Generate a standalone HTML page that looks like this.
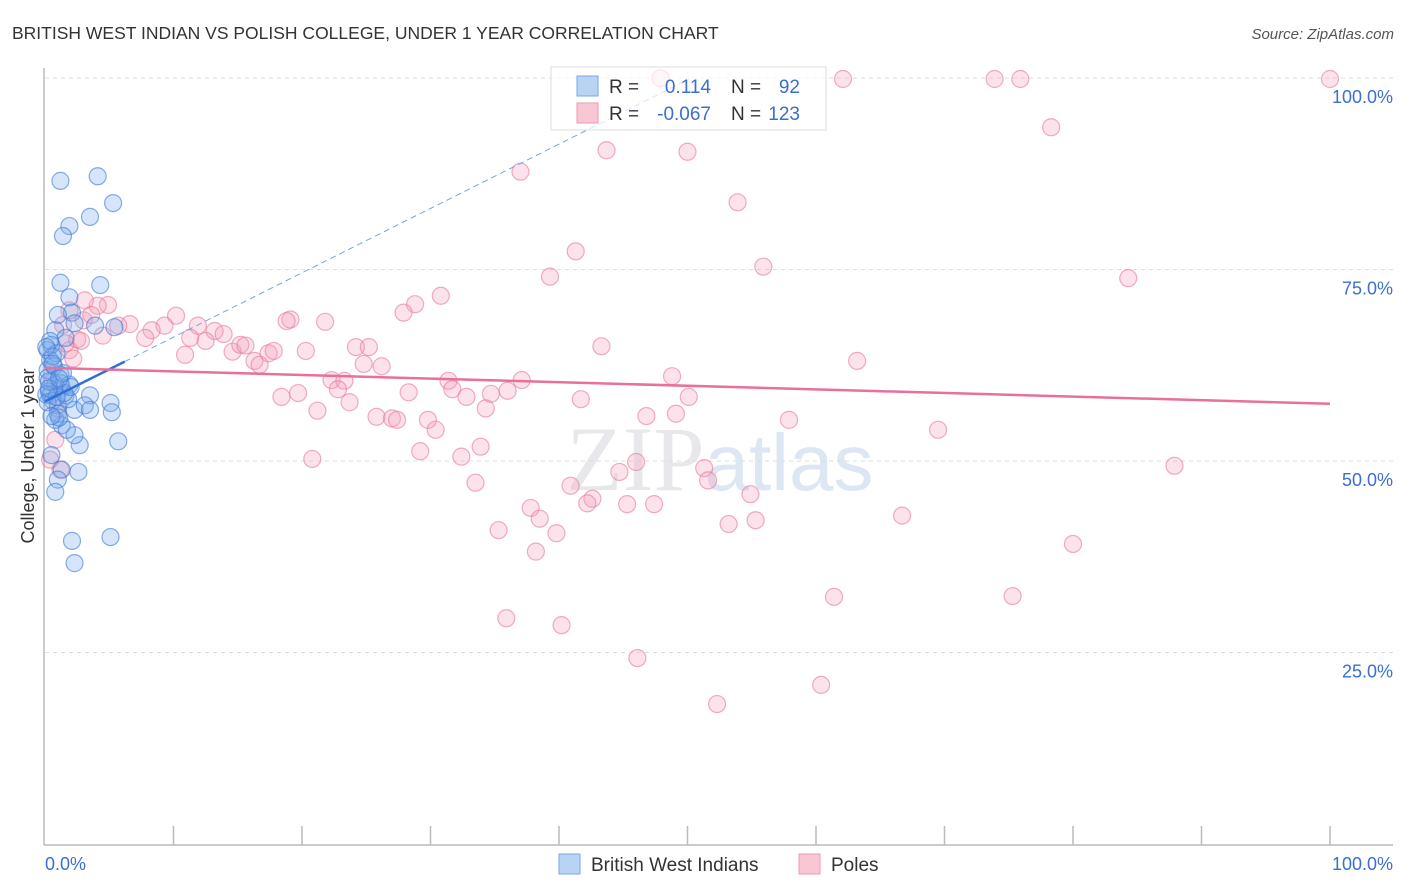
<!DOCTYPE html>
<html><head><meta charset="utf-8"><style>
body{margin:0;background:#fff;font-family:"Liberation Sans",sans-serif;}
svg{display:block}
</style></head><body>
<svg id="chart" width="1406" height="892">
<text x="12" y="39" font-size="17.5" fill="#333">BRITISH WEST INDIAN VS POLISH COLLEGE, UNDER 1 YEAR CORRELATION CHART</text>
<text x="1394" y="39" font-size="15" fill="#555" font-style="italic" text-anchor="end">Source: ZipAtlas.com</text>
<text x="720" y="490" font-size="92" fill="#e8e8ec" text-anchor="middle" font-family="Liberation Serif,serif">ZIP<tspan fill="#dde6f3" font-family="Liberation Sans,sans-serif" font-size="80">atlas</tspan></text>
<g id="grid"></g>
<g id="axes"></g>
<g id="pts"></g>
<g id="trends"></g>
<text transform="translate(34,456) rotate(-90)" font-size="18" fill="#333" text-anchor="middle">College, Under 1 year</text>
<g>
<rect x="551" y="67" width="275" height="63" fill="rgba(255,255,255,0.7)" stroke="#ddd"/>
<rect x="577" y="76" width="21" height="20" fill="#b9d3f5" stroke="#7aa7e6"/>
<rect x="577" y="103" width="21" height="20" fill="#f9c6d4" stroke="#ee9ab3"/>
<text x="609" y="93" font-size="19" fill="#333">R =</text>
<text x="711" y="93" font-size="19" fill="#3a6fd0" text-anchor="end">0.114</text>
<text x="731" y="93" font-size="19" fill="#333">N =</text>
<text x="800" y="93" font-size="19" fill="#3a6fd0" text-anchor="end">92</text>
<text x="609" y="120" font-size="19" fill="#333">R =</text>
<text x="711" y="120" font-size="19" fill="#3a6fd0" text-anchor="end">-0.067</text>
<text x="731" y="120" font-size="19" fill="#333">N =</text>
<text x="800" y="120" font-size="19" fill="#3a6fd0" text-anchor="end">123</text>
</g>
<g>
<rect x="559" y="854" width="21" height="20" fill="#b9d3f5" stroke="#7aa7e6"/>
<text x="591" y="871" font-size="19" fill="#333">British West Indians</text>
<rect x="799" y="854" width="21" height="20" fill="#f9c6d4" stroke="#ee9ab3"/>
<text x="831" y="871" font-size="19" fill="#333">Poles</text>
</g>
</svg>
<script>
const yTicks=[25,50,75,100];
const yTickLabels=["25.0%","50.0%","75.0%","100.0%"];
const blueX=[1.2,4.1,5.3,3.5,1.9,1.4,1.2,4.3,1.9,2.1,1.0,3.9,5.4,2.3,0.8,1.6,0.5,0.2,0.4,0.2,1.2,0.8,1.3,0.4,1.6,1.9,1.0,2.3,3.5,3.1,3.5,5.1,5.2,5.7,2.7,2.3,1.3,0.8,1.7,0.5,1.3,2.6,1.0,0.8,2.1,5.1,2.3,0.3,0.1,0.6,1.0,1.8,1.2,0.4,0.9,0.2,0.7,1.5,0.3,0.6,1.1,0.2,0.5,1.4,0.9,0.3,2.0,0.1,0.6,1.1];
const blueY=[86.7,87.3,83.8,82.0,80.8,79.5,73.4,73.1,71.5,69.5,69.2,67.8,67.6,68.1,67.2,66.2,65.3,64.6,63.3,62.0,61.4,60.1,59.7,58.7,58.7,60.1,57.4,56.8,58.7,57.4,56.8,57.7,56.5,52.7,52.2,53.5,54.8,55.5,54.2,50.9,49.0,48.7,47.7,46.1,39.7,40.2,36.8,59.2,58.8,58.0,56.3,58.2,60.3,65.8,64.2,61.0,62.5,59.0,60.5,63.8,55.8,57.8,56.0,61.6,58.5,59.6,59.8,65.0,62.8,60.9];
const pinkX=[47.9,62.1,73.9,75.9,100,78.3,43.7,50.0,37.0,53.9,41.3,55.9,39.3,84.3,30.8,28.8,27.9,19.1,18.8,21.8,10.2,9.3,8.3,6.6,5.7,4.9,4.1,3.1,1.9,1.4,11.9,13.2,13.9,11.3,12.5,7.8,10.9,14.6,15.2,15.6,16.3,16.7,17.4,17.8,20.3,24.2,25.2,24.8,26.2,18.4,19.7,22.3,23.3,22.8,23.7,21.2,25.8,27.0,27.4,28.3,29.8,30.4,31.4,31.7,32.8,34.7,36.0,37.1,34.3,29.2,32.4,33.9,20.8,33.5,43.3,41.7,46.8,49.1,48.8,50.1,57.9,63.2,69.5,87.9,46.0,44.7,51.3,51.6,40.9,42.6,42.2,45.3,47.4,54.9,37.8,38.5,39.8,35.3,38.2,53.2,55.3,66.7,80.0,35.9,40.2,61.4,75.3,46.1,60.4,52.3,0.4,0.8,1.9,1.2,2.5,1.6,3.0,2.2,0.6,4.5,3.6,1.0,2.8];
const pinkY=[100.1,100,100,100,100,93.7,90.7,90.5,87.9,83.9,77.5,75.5,74.2,74.0,71.7,70.6,69.5,68.6,68.4,68.3,69.1,67.8,67.2,68.0,67.8,70.5,70.4,71.1,69.8,67.9,67.8,67.1,66.7,66.2,65.8,66.2,64.0,64.4,65.3,65.2,63.2,62.7,64.2,64.5,64.5,65.0,65.0,62.8,62.5,58.5,59.0,60.7,60.6,59.5,57.8,56.7,55.9,55.7,55.5,59.1,55.5,54.2,60.6,59.5,58.5,58.9,59.3,60.7,57.0,51.4,50.7,52.0,50.4,47.3,65.1,58.2,56.0,56.3,61.2,58.5,55.5,63.2,54.2,49.5,50.0,48.7,49.2,47.6,46.9,45.2,44.6,44.5,44.5,45.8,44.0,42.6,40.7,41.1,38.3,41.9,42.4,43.0,39.3,29.6,28.7,32.4,32.5,24.4,20.9,18.4,50.3,52.9,64.6,49.0,66.0,65.5,68.5,63.5,60.5,66.5,69.2,57.0,65.8];
const blueTrend=[57.9,0.84];
const pinkTrend=[62.3,-0.047];
const NS="http://www.w3.org/2000/svg";
const X=v=>45+v*12.85, Y=v=>845-v*7.66;
function mk(t,a,p){const e=document.createElementNS(NS,t);for(const k in a)e.setAttribute(k,a[k]);p.appendChild(e);return e;}
const grid=document.getElementById('grid'),axes=document.getElementById('axes'),pts=document.getElementById('pts'),tr=document.getElementById('trends');
yTicks.forEach((t,i)=>{
 const l=mk('line',{x1:45,x2:1393,y1:Y(t)-1,y2:Y(t)-1,stroke:'#ddd','stroke-dasharray':'4,4'},grid);
 
 
 const tx=mk('text',{x:1393,y:Y(t)+24,'font-size':18,fill:'#3a6fd0','text-anchor':'end'},grid);
 tx.textContent=yTickLabels[i];
 
 
});
let a=mk('line',{x1:44,x2:44,y1:68,y2:845,stroke:'#bbb','stroke-width':1.5},axes);


a=mk('line',{x1:44,x2:1393,y1:845,y2:845,stroke:'#bbb','stroke-width':1.5},axes);


for(let i=1;i<=10;i++){const t=mk('line',{x1:X(i*10),x2:X(i*10),y1:826,y2:845,stroke:'#bbb','stroke-width':1.5},axes);
 
 }
let xl=mk('text',{x:45,y:870,'font-size':18,fill:'#3a6fd0'},axes);xl.textContent='0.0%';


xl=mk('text',{x:1393,y:870,'font-size':18,fill:'#3a6fd0','text-anchor':'end'},axes);xl.textContent='100.0%';


pinkX.forEach((x,i)=>{const c=mk('circle',{cx:X(x),cy:Y(pinkY[i]),r:8.5,fill:'rgba(245,160,185,0.3)',stroke:'rgba(232,120,155,0.6)','stroke-width':1.2},pts);
 
 });
blueX.forEach((x,i)=>{const c=mk('circle',{cx:X(x),cy:Y(blueY[i]),r:8.5,fill:'rgba(120,170,235,0.3)',stroke:'rgba(60,120,215,0.6)','stroke-width':1.2},pts);
 
 });
const bEnd=(100-blueTrend[0])/blueTrend[1];
let l=mk('line',{x1:X(6.2),y1:Y(blueTrend[0]+blueTrend[1]*6.2),x2:X(bEnd),y2:Y(100),stroke:'#7aa2e0','stroke-width':1,'stroke-dasharray':'6,4'},tr);


l=mk('line',{x1:X(0),y1:Y(blueTrend[0]),x2:X(6.2),y2:Y(blueTrend[0]+blueTrend[1]*6.2),stroke:'#2f6fd6','stroke-width':2.5},tr);


l=mk('line',{x1:X(0),y1:Y(pinkTrend[0]),x2:X(100),y2:Y(pinkTrend[0]+pinkTrend[1]*100),stroke:'#e8709a','stroke-width':2.5},tr);


</script>
</body></html>
